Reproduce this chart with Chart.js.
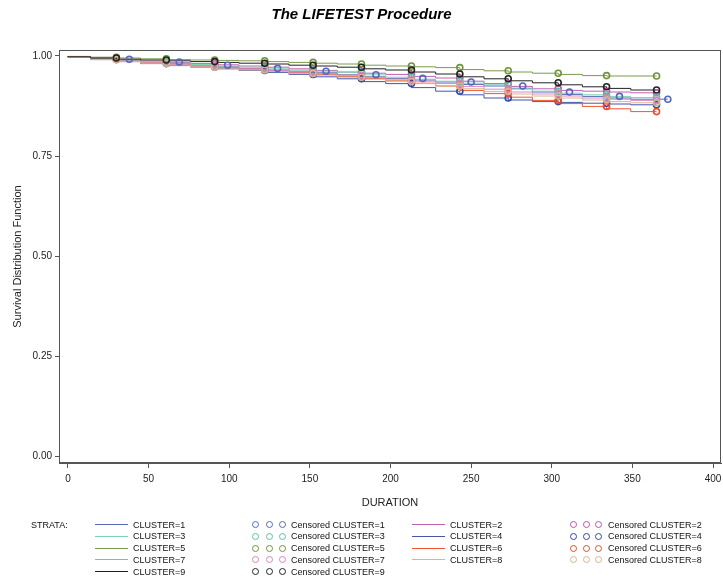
<!DOCTYPE html>
<html><head><meta charset="utf-8">
<script src="https://cdn.jsdelivr.net/npm/chart.js@4.4.0/dist/chart.umd.min.js"></script>
<style>
html,body{margin:0;padding:0;background:#fff;}
#wrap{position:relative;width:723px;height:582px;font-family:Arial,"Liberation Sans",sans-serif;}
#c{position:absolute;left:0;top:0;}
#title{position:absolute;left:0;width:723px;top:5px;text-align:center;font:bold italic 15px Arial,"Liberation Sans",sans-serif;color:#000;}
.lg{position:absolute;font-size:9px;line-height:12px;color:#111;white-space:nowrap;}
.ln{position:absolute;height:0;width:33px;}
.cc{position:absolute;width:5px;height:5px;border-radius:50%;}
</style></head><body>
<div id="wrap"><canvas id="c" width="723" height="582"></canvas><div id="title">The LIFETEST Procedure</div><div id="legend"></div></div>
<script>
// ---- data ----
const durations = [0, 14, 30, 45, 61, 76, 91, 106, 122, 137, 152, 167, 182, 197, 213, 228, 243, 258, 273, 288, 304, 319, 334, 349, 365];
const cluster1 = [1, .997, .992, .988, .985, .981, .977, .973, .969, .965, .962, .958, .953, .948, .944, .940, .935, .929, .925, .918, .910, .904, .899, .895, .892];
const cluster2 = [1, .998, .994, .990, .987, .984, .981, .978, .975, .972, .968, .964, .960, .957, .954, .949, .945, .937, .931, .924, .918, .914, .912, .910, .908];
const cluster3 = [1, .998, .993, .989, .986, .982, .979, .975, .972, .968, .965, .962, .959, .953, .947, .942, .937, .932, .928, .920, .912, .907, .903, .899, .896];
const cluster4 = [1, .997, .991, .986, .981, .976, .972, .968, .964, .959, .954, .948, .943, .936, .931, .921, .912, .903, .895, .890, .886, .884, .882, .880, .878];
const cluster5 = [1, .999, .997, .995, .993, .991, .990, .989, .988, .986, .984, .982, .980, .977, .975, .973, .971, .966, .963, .960, .957, .954, .951, .950, .950];
const cluster6 = [1, .997, .992, .987, .983, .979, .975, .971, .967, .963, .959, .954, .949, .944, .938, .932, .925, .914, .906, .897, .889, .881, .874, .868, .861];
const cluster7 = [1, .997, .992, .987, .983, .979, .976, .972, .968, .964, .960, .956, .952, .947, .942, .937, .931, .924, .917, .910, .905, .900, .895, .892, .889];
const cluster8 = [1, .997, .991, .986, .982, .977, .972, .968, .965, .961, .956, .952, .947, .942, .937, .931, .925, .918, .911, .905, .900, .895, .890, .886, .883];
const cluster9 = [1, .998, .995, .992, .990, .988, .986, .984, .982, .980, .977, .975, .972, .968, .965, .960, .955, .948, .943, .938, .933, .928, .923, .919, .915];
const lastDuration = [372, 365, 365, 365, 365, 365, 365, 365, 365];
const censorMonthly = [30, 61, 91, 122, 152, 182, 213, 243, 273, 304, 334, 365];
const censorCluster1 = [38, 69, 99, 130, 160, 191, 220, 250, 282, 311, 342, 372];
const strataNames = ["CLUSTER=1","CLUSTER=2","CLUSTER=3","CLUSTER=4","CLUSTER=5","CLUSTER=6","CLUSTER=7","CLUSTER=8","CLUSTER=9"];
const xTicks = [0, 50, 100, 150, 200, 250, 300, 350, 400];
const yTicks = [0, 0.25, 0.5, 0.75, 1];

const lineColors = ["#5468b8","#c25fb3","#7fd3b5","#4457ad","#7a9b48","#f0562f","#d98cbf","#d8b692","#222222"];
const markColors = ["#5468c0","#c04fb0","#5fbf9f","#3347a8","#6d9438","#f04a22","#da82bd","#d6b490","#222222"];

const survival = [cluster1,cluster2,cluster3,cluster4,cluster5,cluster6,cluster7,cluster8,cluster9];
const censorTimes = [censorCluster1, censorMonthly, censorMonthly, censorMonthly, censorMonthly, censorMonthly, censorMonthly, censorMonthly, censorMonthly];

function survAt(vals, t){
  let v = vals[0];
  for (let i=0;i<durations.length;i++){ if (durations[i] <= t) v = vals[i]; }
  return v;
}

const datasets = [];
survival.forEach((vals, k) => {
  const pts = durations.map((d,i)=>({x:d, y:vals[i]}));
  pts.push({x:lastDuration[k], y:vals[vals.length-1]});
  datasets.push({label:strataNames[k], data:pts, stepped:'after', borderColor:lineColors[k], borderWidth:1,
    pointRadius:0, fill:false, order: 20 - k});
});
survival.forEach((vals, k) => {
  datasets.push({label:'Censored '+strataNames[k], data:censorTimes[k].map(t=>({x:t, y:survAt(vals,t)})),
    showLine:false, pointStyle:'circle', pointRadius:3, pointBorderWidth:1.6,
    pointBorderColor:markColors[k], pointBackgroundColor:'rgba(0,0,0,0)', borderColor:markColors[k], order: 10 - k});
});

const FONT = 'Arial, "Liberation Sans", sans-serif';
const frame = {id:'frame', afterDraw(chart){
  const a = chart.chartArea, ctx = chart.ctx, xs = chart.scales.x;
  ctx.save(); ctx.strokeStyle = '#555'; ctx.lineWidth = 1;
  ctx.strokeRect(Math.round(a.left)+0.5, Math.round(a.top)+0.5, Math.round(a.right-a.left)-1, Math.round(a.bottom-a.top)-1);
  ctx.fillStyle = '#222'; ctx.font = '10px ' + FONT; ctx.textAlign = 'center'; ctx.textBaseline = 'top';
  xTicks.forEach(v => ctx.fillText(String(v), xs.getPixelForValue(v), a.bottom + 11));
  ctx.restore();
}};

const noPad = () => ({left:0, top:0, right:0, bottom:0});

new Chart(document.getElementById('c'), {
  type:'line',
  data:{datasets},
  options:{
    responsive:false, animation:false, events:[],
    layout:{autoPadding:false, padding:{left:0, top:50, right:2, bottom:72}},
    plugins:{legend:{display:false}, tooltip:{enabled:false}, title:{display:false}},
    scales:{
      x:{type:'linear', min:-5.58, max:404.96,
        afterBuildTicks: s => { s.ticks = xTicks.map(v=>({value:v})); },
        afterFit: s => { s.height = 47; s.paddingLeft = 0; s.paddingRight = 0; s.getPadding = noPad; },
        grid:{drawOnChartArea:false, drawTicks:true, tickLength:5, color:'#555'},
        border:{color:'#555', width:1},
        ticks:{display:false},
        title:{display:true, text:'DURATION', font:{size:11, family:FONT}, color:'#222', padding:0}
      },
      y:{type:'linear', min:-0.0175, max:1.015,
        afterBuildTicks: s => { s.ticks = yTicks.map(v=>({value:v})); },
        afterFit: s => { s.width = 59; s.paddingTop = 0; s.paddingBottom = 0; s.getPadding = noPad; },
        grid:{drawOnChartArea:false, drawTicks:true, tickLength:4, color:'#555'},
        border:{color:'#555', width:1},
        ticks:{font:{size:10, family:FONT}, color:'#222', padding:3,
          callback: v => Number(v).toFixed(2)},
        title:{display:true, text:'Survival Distribution Function', font:{size:11, family:FONT}, color:'#222', padding:{top:11,bottom:0}}
      }
    }
  },
  plugins:[frame]
});

// ---- legend ----
const lg = document.getElementById('legend');
function add(html){ lg.insertAdjacentHTML('beforeend', html); }
const rowY = [524.5, 536.3, 548, 559.8, 571.5];
add(`<div class="lg" style="left:31px;top:${rowY[0]-6}px">STRATA:</div>`);
strataNames.forEach((name,k)=>{
  const row = Math.floor(k/2), right = k%2===1;
  const y = rowY[row];
  const lx = right ? 412 : 95, tx = right ? 450 : 133;
  const cxs = right ? [573,586,598] : [255,269,282];
  const ctx = right ? 608 : 291;
  add(`<div class="ln" style="left:${lx}px;top:${y-0.5}px;border-top:1.3px solid ${lineColors[k]}"></div>`);
  add(`<div class="lg" style="left:${tx}px;top:${y-6}px">${name}</div>`);
  cxs.forEach(cx=> add(`<div class="cc" style="left:${cx-3.5}px;top:${y-3.5}px;border:1.2px solid ${markColors[k]}"></div>`));
  add(`<div class="lg" style="left:${ctx}px;top:${y-6}px">Censored ${name}</div>`);
});
</script>
</body></html>
